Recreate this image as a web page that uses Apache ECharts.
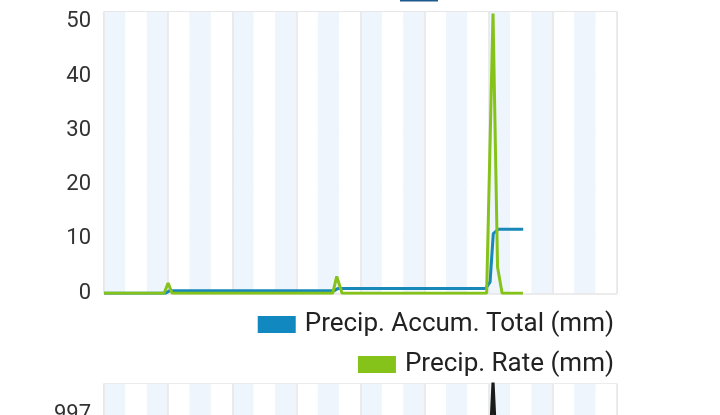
<!DOCTYPE html>
<html>
<head>
<meta charset="utf-8">
<script src="https://cdn.jsdelivr.net/npm/echarts@6/dist/echarts.min.js"></script>
<style>
html,body{margin:0;padding:0;background:#fff;}
#c{width:720px;height:415px;}
</style>
</head>
<body>
<div id="c"></div>
<script>
// x in hours over the visible span (0..192)
var accumTotal = [[0,0],[23,0],[24.5,0.45],[86,0.45],[87.5,0.9],[142.9,0.9],[144.5,2.1],[145.7,11],[147.6,11.8],[156.9,11.8]];
var precipRate = [[0,0],[22.5,0],[24,1.9],[25.5,0],[85.6,0],[87.1,3.1],[89.1,0],[143.2,0],[145.6,51.5],[147.3,4.8],[149,0],[156.8,0]];
var pressure = [[0,994.6],[142.9,994.8],[145.6,997.6],[148.3,994.8],[156.9,994.9]];
var yTicks = [0,10,20,30,40,50];
var seriesNames = ['Precip. Accum. Total (mm)','Precip. Rate (mm)'];

var FONT = 'Roboto';
var bandColors = ['#eef5fc','#ffffff'];
var gridLineStyle = {color:'#e6e6e6', width:1.5};

function bandAxis(gi){
  return {type:'value', gridIndex:gi, min:0, max:192, interval:8,
    axisLine:{show:false}, axisTick:{show:false}, axisLabel:{show:false},
    splitLine:{show:false}, splitArea:{show:true, areaStyle:{color:bandColors}}};
}
function lineAxis(gi){
  return {type:'value', gridIndex:gi, min:0, max:192, interval:24,
    axisLine:{show:false}, axisTick:{show:false}, axisLabel:{show:false},
    splitLine:{show:true, lineStyle:gridLineStyle}, splitArea:{show:false}};
}

var chart = echarts.init(document.getElementById('c'), null, {renderer:'canvas'});
chart.setOption({
  animation:false,
  backgroundColor:'#ffffff',
  textStyle:{fontFamily:FONT},
  grid:[
    {left:104, right:103, top:12, bottom:121.7, outerBoundsMode:'none', containLabel:false,
     show:true, borderColor:'#e6e6e6', borderWidth:1.5, backgroundColor:'transparent'},
    {left:104, right:103, top:384, bottom:-272, outerBoundsMode:'none', containLabel:false,
     show:true, borderColor:'#e6e6e6', borderWidth:1.5, backgroundColor:'transparent'}
  ],
  xAxis:[bandAxis(0), lineAxis(0), bandAxis(1), lineAxis(1)],
  yAxis:[
    {type:'value', gridIndex:0, min:yTicks[0], max:51.8, interval:10,
     axisLine:{show:false}, axisTick:{show:false},
     axisLabel:{show:true, showMaxLabel:false, color:'#333', fontSize:22, fontFamily:FONT, margin:13},
     splitLine:{show:true, lineStyle:gridLineStyle}},
    {type:'value', gridIndex:1, min:992, max:997.55, interval:1,
     axisLine:{show:false}, axisTick:{show:false},
     axisLabel:{show:true, showMaxLabel:false, color:'#333', fontSize:22, fontFamily:FONT, margin:13},
     splitLine:{show:false}}
  ],
  legend:[
    {data:[seriesNames[0]], right:106, top:311.5, padding:0, itemWidth:38, itemHeight:17, itemGap:10,
     icon:'rect', textStyle:{fontSize:26, color:'#222', fontFamily:FONT, padding:[0,0,0,4]}},
    {data:[seriesNames[1]], right:106, top:351.5, padding:0, itemWidth:38, itemHeight:17, itemGap:10,
     icon:'rect', textStyle:{fontSize:26, color:'#222', fontFamily:FONT, padding:[0,0,0,4]}}
  ],
  graphic:[
    {type:'rect', shape:{x:400, y:-15, width:38, height:16.5}, style:{fill:'#1f5a8c'}}
  ],
  series:[
    {name:seriesNames[0], type:'line', xAxisIndex:0, yAxisIndex:0, data:accumTotal, showSymbol:false,
     color:'#1288c0', lineStyle:{width:3, color:'#1888b8'}, z:2},
    {name:seriesNames[1], type:'line', xAxisIndex:0, yAxisIndex:0, data:precipRate, showSymbol:false,
     color:'#86c31a', lineStyle:{width:3, color:'#86c31a'}, z:3},
    {name:'Pressure', type:'line', xAxisIndex:2, yAxisIndex:1, data:pressure, showSymbol:false,
     color:'#1a1a1a', lineStyle:{width:3, color:'#1a1a1a'}, z:3}
  ]
});
</script>
</body>
</html>
